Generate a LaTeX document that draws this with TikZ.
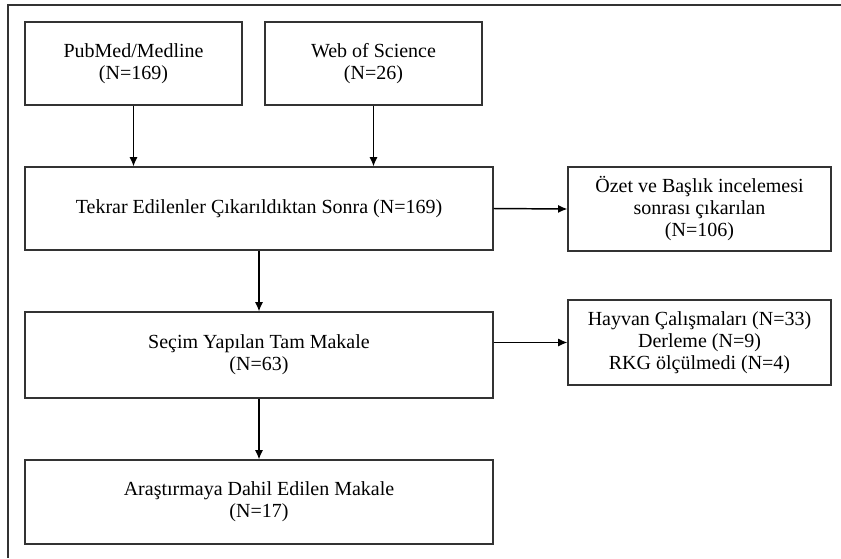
\documentclass[tikz,border=0pt]{standalone}
\usepackage{fontspec}
\setmainfont{Liberation Serif}
\usetikzlibrary{arrows.meta}

\tikzset{
  box/.style={draw=black!80, line width=0.8pt, align=center, inner sep=0pt,
    font=\fontsize{15}{16.5}\selectfont},
  arr/.style={draw=black, line width=1.1pt, -{Latex[length=7pt,width=6pt]}}
}

\begin{document}
\begin{tikzpicture}[x=0.75pt, y=-0.75pt]
      \useasboundingbox (0,0) rectangle (841,558);
      \draw[black!80, line width=0.8pt] (841,5) -- (8,5) -- (8,558);
      \node[box, anchor=center, minimum width=162.75pt, minimum height=62.25pt] (pubmed) at (133.5, 63.5) {PubMed/Medline\\(N=169)};
      \node[box, anchor=center, minimum width=162.75pt, minimum height=62.25pt] (wos) at (373.5, 63.5) {Web of Science\\(N=26)};
      \node[box, anchor=center, minimum width=351pt, minimum height=62.25pt] (tekrar) at (259, 208.5) {Tekrar Edilenler Çıkarıldıktan Sonra (N=169)};
      \node[box, anchor=center, minimum width=197.25pt, minimum height=63pt] (ozet) at (699.5, 209) {Özet ve Başlık incelemesi\\sonrası çıkarılan\\(N=106)};
      \node[box, anchor=center, minimum width=351pt, minimum height=64.5pt] (secim) at (259, 355) {Seçim Yapılan Tam Makale\\(N=63)};
      \node[box, anchor=center, minimum width=197.25pt, minimum height=63.75pt] (hayvan) at (699.5, 342.5) {Hayvan Çalışmaları (N=33)\\Derleme (N=9)\\RKG ölçülmedi (N=4)};
      \node[box, anchor=center, minimum width=351pt, minimum height=63pt] (arastirma) at (259, 502) {Araştırmaya Dahil Edilen Makale\\(N=17)};
      \draw[arr] (pubmed.south) -- (pubmed.south |- tekrar.north);
      \draw[arr] (wos.south) -- (wos.south |- tekrar.north);
      \draw[arr] (tekrar.east) -- (ozet.west);
      \draw[arr] (tekrar.south) -- (secim.north);
      \draw[arr] (secim.east |- hayvan.west) -- (hayvan.west);
      \draw[arr] (secim.south) -- (arastirma.north);
    \end{tikzpicture}
\end{document}
